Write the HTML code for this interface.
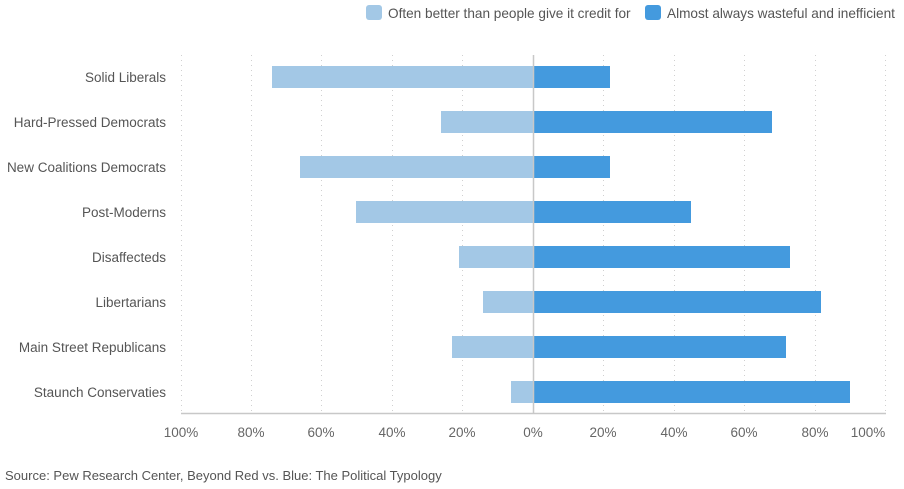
<!DOCTYPE html>
<html><head><meta charset="utf-8"><style>
body{margin:0;background:#fff;}
svg text{font-family:"Liberation Sans",sans-serif;}
</style></head><body>
<svg width="904" height="484" xmlns="http://www.w3.org/2000/svg">
<rect width="904" height="484" fill="#fff"/>
<rect x="366" y="5" width="16" height="15" rx="3" fill="#a3c8e6"/>
<text x="388" y="18" font-size="13.6" fill="#555">Often better than people give it credit for</text>
<rect x="645" y="5" width="16" height="15" rx="3" fill="#449ade"/>
<text x="667" y="18" font-size="13.6" fill="#555">Almost always wasteful and inefficient</text>
<g stroke="#d0d0d0" stroke-width="1" stroke-dasharray="1,4">
<line x1="181.5" y1="55" x2="181.5" y2="413"/>
<line x1="251.5" y1="55" x2="251.5" y2="413"/>
<line x1="321.5" y1="55" x2="321.5" y2="413"/>
<line x1="392.5" y1="55" x2="392.5" y2="413"/>
<line x1="462.5" y1="55" x2="462.5" y2="413"/>
<line x1="603.5" y1="55" x2="603.5" y2="413"/>
<line x1="674.5" y1="55" x2="674.5" y2="413"/>
<line x1="744.5" y1="55" x2="744.5" y2="413"/>
<line x1="815.5" y1="55" x2="815.5" y2="413"/>
<line x1="885.5" y1="55" x2="885.5" y2="413"/>
</g>
<g fill="#a3c8e6">
<rect x="272" y="66" width="261" height="22"/>
<rect x="441" y="111" width="92" height="22"/>
<rect x="300" y="156" width="233" height="22"/>
<rect x="356" y="201" width="177" height="22"/>
<rect x="459" y="246" width="74" height="22"/>
<rect x="483" y="291" width="50" height="22"/>
<rect x="452" y="336" width="81" height="22"/>
<rect x="511" y="381" width="22" height="22"/>
</g>
<g fill="#449ade">
<rect x="533" y="66" width="77" height="22"/>
<rect x="533" y="111" width="239" height="22"/>
<rect x="533" y="156" width="77" height="22"/>
<rect x="533" y="201" width="158" height="22"/>
<rect x="533" y="246" width="257" height="22"/>
<rect x="533" y="291" width="288" height="22"/>
<rect x="533" y="336" width="253" height="22"/>
<rect x="533" y="381" width="317" height="22"/>
</g>
<line x1="533.5" y1="55" x2="533.5" y2="413" stroke="#c8c8c8" stroke-width="1.5"/>
<line x1="181" y1="413.5" x2="886" y2="413.5" stroke="#c8c8c8" stroke-width="1.5"/>
<g font-size="13.5" fill="#555" text-anchor="end">
<text x="166" y="82">Solid Liberals</text>
<text x="166" y="127">Hard-Pressed Democrats</text>
<text x="166" y="172">New Coalitions Democrats</text>
<text x="166" y="217">Post-Moderns</text>
<text x="166" y="262">Disaffecteds</text>
<text x="166" y="307">Libertarians</text>
<text x="166" y="352">Main Street Republicans</text>
<text x="166" y="397">Staunch Conservaties</text>
</g>
<g font-size="13.5" fill="#666" text-anchor="middle">
<text x="181" y="437">100%</text>
<text x="251" y="437">80%</text>
<text x="321" y="437">60%</text>
<text x="392" y="437">40%</text>
<text x="462" y="437">20%</text>
<text x="533" y="437">0%</text>
<text x="603" y="437">20%</text>
<text x="674" y="437">40%</text>
<text x="744" y="437">60%</text>
<text x="815" y="437">80%</text>
<text x="868" y="437">100%</text>
</g>
<text x="5" y="480" font-size="13" fill="#555">Source: Pew Research Center, Beyond Red vs. Blue: The Political Typology</text>
</svg>
</body></html>
